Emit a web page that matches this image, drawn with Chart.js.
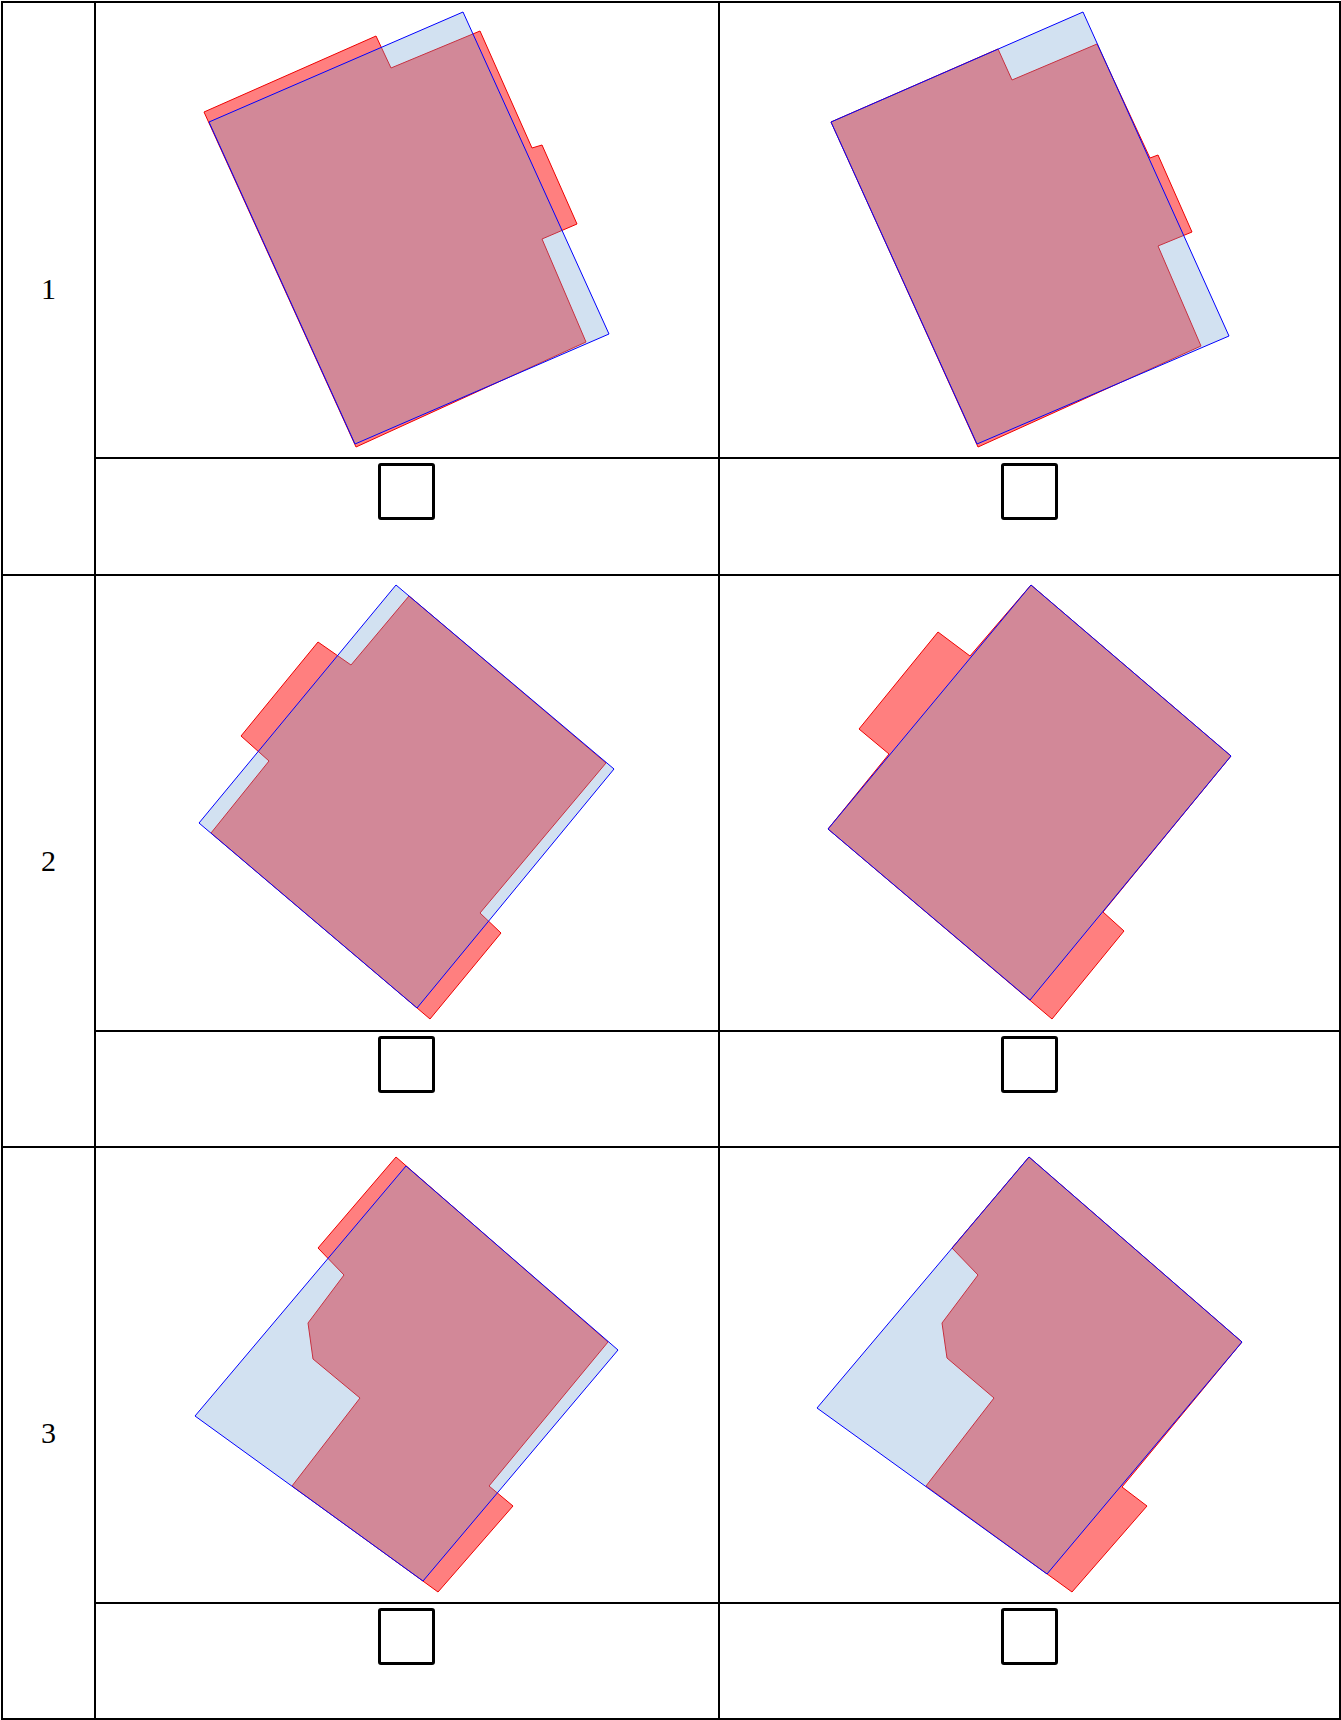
<!DOCTYPE html>
<html>
<head>
<meta charset="utf-8">
<script src="https://cdn.jsdelivr.net/npm/chart.js@4.4.0/dist/chart.umd.min.js"></script>
<style>
  body { margin: 0; background: #fff; }
  #page { position: relative; width: 1341px; height: 1720px; overflow: hidden; }
  .cell { position: absolute; }
  .hl, .vl { position: absolute; background: #000; z-index: 5; }
  .lbl { position: absolute; left: 2px; width: 93px; display: flex; align-items: center; justify-content: center;
         font-family: "Liberation Serif", "Times New Roman", serif; font-size: 30px; color: #000; }
  .box { position: absolute; width: 51px; height: 51px; border: 3px solid #000; border-radius: 3px; background: #fff; }
</style>
</head>
<body>
<div id="page"></div>
<script>
'use strict';

// ------------------------------------------------------- //
// polygon vertices, cell-local coords (x right, y down)
// blue = reference outline, red = predicted outline
// ------------------------------------------------------ //
var rowLabels = ['1', '2', '3'];

var r1aBlue = [[114,120],[368,10],[514,332],[260,442]];
var r1aRed  = [[109,110],[281,34],[296,66],[385,29],[437,146],[447,143],[482,222],[447,237],[491,340],[261,445]];

var r1bBlue = [[112,120],[364,10],[510,334],[258,442]];
var r1bRed  = [[112,120],[279,47],[293,78],[378,42],[431,156],[439,153],[473,230],[439,244],[482,344],[259,445]];

var r2aBlue = [[301,10],[519,194],[322,433],[104,248]];
var r2aRed  = [[116,258],[174,186],[146,161],[223,67],[256,90],[314,21],[511,188],[385,338],[406,358],[335,444]];

var r2bBlue = [[312,10],[512,181],[311,425],[109,254]];
var r2bRed  = [[109,254],[170,179],[140,154],[219,57],[251,81],[312,10],[512,181],[384,337],[405,356],[333,444]];

var r3aBlue = [[311,19],[523,203],[328,434],[100,269]];
var r3aRed  = [[301,10],[513,195],[394,339],[418,359],[343,445],[197,339],[265,251],[218,212],[213,176],[249,128],[223,101]];

var r3bBlue = [[310,10],[523,195],[328,427],[98,261]];
var r3bRed  = [[310,10],[523,195],[403,340],[428,359],[353,445],[207,339],[275,251],[228,211],[223,176],[259,128],[233,101]];

// cell frames: left, top, width, height
var colX = [95, 719];
var colW = [624, 621];
var rowY = [2, 575, 1147];
var imgH = 456;

var cells = [
    [r1aBlue, r1aRed], [r1bBlue, r1bRed],
    [r2aBlue, r2aRed], [r2bBlue, r2bRed],
    [r3aBlue, r3aRed], [r3bBlue, r3bRed]
];

var page = document.getElementById('page');

function closed(pts) {
    var out = pts.map(function (p) { return {x: p[0], y: p[1]}; });
    out.push({x: pts[0][0], y: pts[0][1]});
    return out;
}

function addDiv(cls, css, txt) {
    var d = document.createElement('div');
    d.className = cls;
    Object.assign(d.style, css);
    if (txt) d.textContent = txt;
    page.appendChild(d);
    return d;
}

cells.forEach(function (c, i) {
    var row = Math.floor(i / 2), col = i % 2;
    var cv = document.createElement('canvas');
    cv.className = 'cell';
    cv.width = colW[col];
    cv.height = imgH;
    cv.style.left = colX[col] + 'px';
    cv.style.top = rowY[row] + 'px';
    page.appendChild(cv);

    new Chart(cv, {
        type: 'scatter',
        data: {
            datasets: [{
                data: closed(c[0]),
                showLine: true,
                fill: 'shape',
                backgroundColor: 'rgba(107,155,210,0.3)',
                borderColor: '#0000ff',
                borderWidth: 1,
                pointRadius: 0
            }, {
                data: closed(c[1]),
                showLine: true,
                fill: 'shape',
                backgroundColor: 'rgba(255,0,0,0.5)',
                borderColor: '#ee0000',
                borderWidth: 1,
                pointRadius: 0
            }]
        },
        options: {
            responsive: false,
            animation: false,
            events: [],
            clip: false,
            layout: { padding: 0 },
            plugins: { legend: { display: false }, tooltip: { enabled: false } },
            scales: {
                x: { type: 'linear', min: 0, max: colW[col], display: false },
                y: { type: 'linear', min: 0, max: imgH, reverse: true, display: false }
            }
        }
    });

    // checkbox under each picture
    var sepY = [458, 1031, 1602.5][row];
    var cx = col === 0 ? 406 : 1029.5;
    addDiv('box', { left: (cx - 28.5) + 'px', top: (sepY + 5) + 'px' });
});

// table rules
[2, 575, 1147, 1719].forEach(function (y) {
    addDiv('hl', { left: '1px', top: (y - 1) + 'px', width: '1340px', height: '2px' });
});
[458, 1031, 1602.5].forEach(function (y) {
    addDiv('hl', { left: '94px', top: (y - 1) + 'px', width: '1247px', height: '2px' });
});
[2, 95, 718.5, 1340].forEach(function (x) {
    addDiv('vl', { left: (x - 1) + 'px', top: '1px', width: '2px', height: '1719px' });
});

rowLabels.forEach(function (t, r) {
    var top = [2, 575, 1147][r], bot = [575, 1147, 1719][r];
    addDiv('lbl', { top: top + 'px', height: (bot - top) + 'px' }, t);
});
</script>
</body>
</html>
